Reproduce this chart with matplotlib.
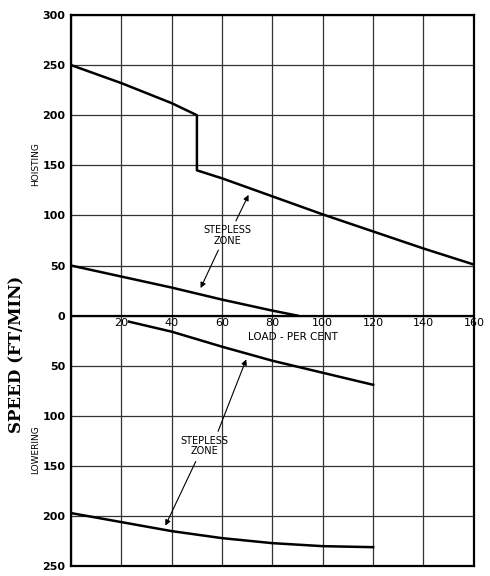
import matplotlib.pyplot as plt

# hoisting curves (speed up, positive)
hoist_hi_x = [0, 20, 40, 50, 50, 60, 80, 100, 120, 140, 160]
hoist_hi_y = [250, 232, 212, 200, 145, 137, 119, 101, 84, 67, 51]
hoist_lo_x = [0, 20, 40, 60, 80, 90]
hoist_lo_y = [50, 39, 28, 16, 5, 0]
# lowering curves (speed down, stored negative)
lower_hi_x = [23, 40, 60, 80, 100, 120]
lower_hi_y = [-6, -16, -31, -45, -57, -69]
lower_lo_x = [0, 20, 40, 60, 80, 100, 120]
lower_lo_y = [-197, -206, -215, -222, -227, -230, -231]

x_ticks = [20, 40, 60, 80, 100, 120, 140, 160]
y_ticks = [300, 250, 200, 150, 100, 50, 0, -50, -100, -150, -200, -250]

fig = plt.figure(figsize=(4.9, 5.76), dpi=100)
ax = fig.add_axes([0.145, 0.017, 0.822, 0.957])
ax.set_xlim(0, 160)
ax.set_ylim(-250, 300)

for xv in range(0, 161, 20):
    ax.axvline(xv, color='#333333', lw=0.9)
for yv in y_ticks:
    ax.axhline(yv, color='#333333', lw=0.9)
ax.axhline(0, color='black', lw=1.6)
for s in ax.spines.values():
    s.set_linewidth(1.6)

lw = 1.8
ax.plot(hoist_hi_x, hoist_hi_y, color='black', lw=lw)
ax.plot(hoist_lo_x, hoist_lo_y, color='black', lw=lw)
ax.plot(lower_hi_x, lower_hi_y, color='black', lw=lw)
ax.plot(lower_lo_x, lower_lo_y, color='black', lw=lw)

ax.set_xticks([])
ax.set_yticks(y_ticks)
ax.set_yticklabels([str(abs(v)) for v in y_ticks], fontsize=8, fontweight='bold')
ax.tick_params(axis='y', length=0, pad=4)
for xv in x_ticks:
    ax.text(xv, -2, str(xv), ha='center', va='top', fontsize=8)
ax.text(88, -16, 'LOAD - PER CENT', ha='center', va='top', fontsize=7.5)

# stepless zone annotations
arr = dict(arrowstyle='-|>', color='black', lw=0.8, mutation_scale=8)
ax.text(62, 80, 'STEPLESS\nZONE', ha='center', va='center', fontsize=7, linespacing=1.1)
ax.annotate('', xy=(71, 123), xytext=(65, 92), arrowprops=arr)
ax.annotate('', xy=(51, 25), xytext=(59, 68), arrowprops=arr)
ax.text(53, -130, 'STEPLESS\nZONE', ha='center', va='center', fontsize=7, linespacing=1.1)
ax.annotate('', xy=(70, -41), xytext=(58, -118), arrowprops=arr)
ax.annotate('', xy=(37, -212), xytext=(50, -143), arrowprops=arr)

fig.text(0.072, 0.715, 'HOISTING', rotation=90, ha='center', va='center', fontsize=6.5)
fig.text(0.072, 0.22, 'LOWERING', rotation=90, ha='center', va='center', fontsize=6.5)
fig.text(0.035, 0.385, 'SPEED (FT/MIN)', rotation=90, ha='center', va='center',
         fontsize=12, fontweight='bold', family='DejaVu Serif')

fig.savefig('out.png', dpi=100)
